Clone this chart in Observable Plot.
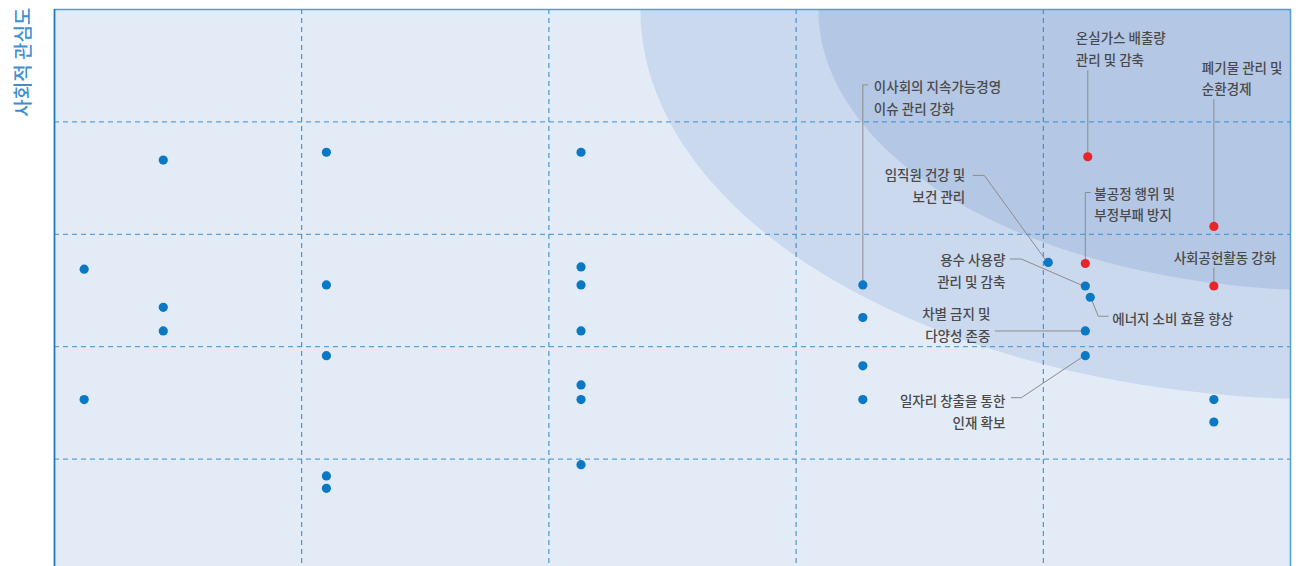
<!DOCTYPE html>
<html><head><meta charset="utf-8">
<script src="https://cdn.jsdelivr.net/npm/d3@7"></script>
<script src="https://cdn.jsdelivr.net/npm/@observablehq/plot@0.6"></script>
<style>html,body{margin:0;padding:0;background:#fff;overflow:hidden;}</style>
</head><body><div id="chart"></div>
<script>
// ---- data ----
const issueNames = ["","","","","","","","","","","","","","","","","",
  "이사회의 지속가능경영\n이슈 관리 강화","","","",
  "임직원 건강 및\n보건 관리","용수 사용량\n관리 및 감축","에너지 소비 효율 향상","차별 금지 및\n다양성 존중","일자리 창출을 통한\n인재 확보",
  "온실가스 배출량\n관리 및 감축","불공정 행위 및\n부정부패 방지","폐기물 관리 및\n순환경제","사회공헌활동 강화","",""];
const businessImpact = [0.12,0.12,0.44,0.44,0.44,1.10,1.10,1.10,1.10,1.10,2.13,2.13,2.13,2.13,2.13,2.13,2.13,
  3.27,3.27,3.27,3.27,4.02,4.17,4.19,4.17,4.17,4.18,4.17,4.69,4.69,4.69,4.69];
const socialConcern = [2.69,1.53,3.66,2.35,2.14,3.73,2.55,1.92,0.85,0.74,3.73,2.71,2.55,2.14,1.66,1.53,0.95,
  2.55,2.26,1.83,1.53,2.75,2.54,2.44,2.14,1.92,3.69,2.74,3.07,2.54,1.53,1.33];
const isMaterial = [0,0,0,0,0,0,0,0,0,0,0,0,0,0,0,0,0,0,0,0,0,0,0,0,0,0,1,1,1,1,0,0];
const yAxisTitle = "사회적 관심도";
const gridValues = [1,2,3,4];
// materiality zones (ellipses centred at the top-right corner, data units)
const zoneCx = [5.16,5.16], zoneCy = [5.0,5.0], zoneRx = [2.79,2.07], zoneRy = [3.47,2.5];
const zoneColors = ["#cbd9ef","#b4c7e5"];

// ---- label layout (pixel offsets relative to the dot) ----
const labelLayout = {
  17:{anchor:"start",dx:11,dy:-189,path:[[0,-4],[0,-200],[5,-200]]},
  21:{anchor:"end",dx:-83,dy:-78,path:[[-75,-87],[-64,-87],[-3,-3]]},
  22:{anchor:"end",dx:-80,dy:-17,path:[[-75,-27],[-64,-27],[-4,-1]]},
  23:{anchor:"start",dx:22,dy:20,path:[[2,4],[8,19],[18,19]]},
  24:{anchor:"end",dx:-95,dy:-8,path:[[-90,0],[-4,0]]},
  25:{anchor:"end",dx:-80,dy:54,path:[[-74,42],[-64,42],[-4,2]]},
  26:{anchor:"start",dx:-12,dy:-110,path:[[0,-86],[0,-4]]},
  27:{anchor:"start",dx:9,dy:-61,path:[[0,-4],[0,-71],[5,-71]]},
  28:{anchor:"start",dx:-12,dy:-150,path:[[0,-127],[0,-4]]},
  29:{anchor:"middle",dx:11,dy:-30,path:[[0,-18],[0,-4]]}
};

const W = 1298, H = 571, ML = 54, MR = 8, MT = 9, MB = 0;
const kx = (W - ML - MR) / 5, ky = (H - MT - MB) / 5;

const issues = businessImpact.map((x, i) => ({id: i, name: issueNames[i], x, y: socialConcern[i], material: isMaterial[i]}));
const labeled = issues.filter(d => labelLayout[d.id]).map(d => {
  const L = labelLayout[d.id];
  return {...d, anchor: L.anchor, lx: d.x + L.dx / kx, ly: d.y - L.dy / ky};
});
const leaders = [];
labeled.forEach(d => labelLayout[d.id].path.forEach(([px, py]) => leaders.push({id: d.id, x: d.x + px / kx, y: d.y - py / ky})));

const zonePts = [];
zoneCx.forEach((cx, k) => {
  for (let a = 0; a <= 360; a += 2) {
    const t = a * Math.PI / 180;
    zonePts.push({z: k, x: cx + zoneRx[k] * Math.cos(t), y: zoneCy[k] + zoneRy[k] * Math.sin(t)});
  }
});

const font = "'Noto Sans CJK KR', 'Noto Sans', sans-serif";
const textOpts = (anchor) => ({x: "lx", y: "ly", text: "name", textAnchor: anchor, lineAnchor: "middle",
  lineHeight: 1.62, fontSize: 13.5, fontWeight: 500, fill: "#4a4a4a", fontFamily: font});

const chart = Plot.plot({
  width: W, height: H, marginLeft: ML, marginRight: MR, marginTop: MT, marginBottom: MB,
  x: {domain: [0, 5], axis: null},
  y: {domain: [0, 5], axis: null},
  style: {fontFamily: font, background: "#fff", overflow: "visible"},
  marks: [
    Plot.frame({fill: "#e3ebf6", stroke: "none"}),
    Plot.line(zonePts.filter(d => d.z === 0), {x: "x", y: "y", fill: zoneColors[0], stroke: "none", clip: true}),
    Plot.line(zonePts.filter(d => d.z === 1), {x: "x", y: "y", fill: zoneColors[1], stroke: "none", clip: true}),
    Plot.ruleX(gridValues, {stroke: "#2a86cc", strokeWidth: 1, strokeDasharray: "5,4"}),
    Plot.ruleY(gridValues, {stroke: "#3a90d0", strokeWidth: 1, strokeDasharray: "5,4"}),
    Plot.frame({stroke: "#4fa0da", strokeWidth: 1.5}),
    Plot.ruleX([0], {stroke: "#1f78bd", strokeWidth: 1.5}),
    Plot.line(leaders, {x: "x", y: "y", z: "id", stroke: "#8c8c8c", strokeWidth: 1}),
    Plot.dot(issues, {x: "x", y: "y", r: 4.6, fill: d => d.material ? "#e8262a" : "#0a78c4", stroke: "none"}),
    Plot.text(labeled.filter(d => d.anchor === "start"), textOpts("start")),
    Plot.text(labeled.filter(d => d.anchor === "end"), textOpts("end")),
    Plot.text(labeled.filter(d => d.anchor === "middle"), textOpts("middle")),
    Plot.text([yAxisTitle], {frameAnchor: "top-left", text: d => d, rotate: -90, textAnchor: "end",
      dx: -38, dy: -2, fontSize: 19, fontWeight: 500, fill: "#3f8fd0", fontFamily: font})
  ]
});
document.getElementById("chart").appendChild(chart);
</script>
</body></html>
